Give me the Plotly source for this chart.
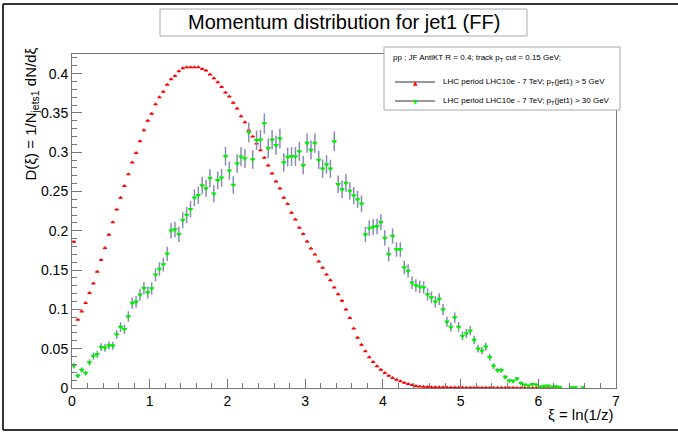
import plotly.graph_objects as go

# ---------------- data ----------------
bin_width = 0.05
n_bins = 132
xi_centers = [round(0.025 + bin_width * i, 3) for i in range(n_bins)]

red_vals = [
    0.186, 0.087, 0.0975, 0.108, 0.121, 0.133, 0.148, 0.163, 0.178, 0.195,
    0.211, 0.227, 0.242, 0.257, 0.272, 0.287, 0.299, 0.314, 0.328, 0.340,
    0.349, 0.361, 0.370, 0.377, 0.386, 0.393, 0.397, 0.403, 0.407, 0.408,
    0.408, 0.408, 0.408, 0.406, 0.404, 0.399, 0.394, 0.389, 0.383, 0.376,
    0.371, 0.363, 0.3555, 0.3457, 0.338, 0.328, 0.320, 0.311, 0.3025, 0.293,
    0.283, 0.273, 0.2627, 0.254, 0.242, 0.234, 0.223, 0.2144, 0.204, 0.196,
    0.1863, 0.1776, 0.1698, 0.161, 0.153, 0.1443, 0.137, 0.128, 0.1193, 0.111,
    0.100, 0.089, 0.0758, 0.064, 0.0549, 0.0468, 0.039, 0.033, 0.0276, 0.0233,
    0.019, 0.0157, 0.0127, 0.0106, 0.0085, 0.0067, 0.0051, 0.0038, 0.0027, 0.002,
    0.0017, 0.0013, 0.0011, 0.001, 0.0009, 0.0008, 0.0007, 0.0006, 0.0006, 0.0005,
    0.0005, 0.0004, 0.0004, 0.0004, 0.0003, 0.0003, 0.0003, 0.0003, 0.0002, 0.0002,
    0.0002, 0.0002, 0.0002, 0.0002, 0.0001, 0.0001, 0.0001, 0.0001, 0.0001, 0.0001,
    0.0001, 0.0001, 0.0001, 0.0001, 0.0001, 0.0001, None, None, None, None,
    None, None,
]

green_vals = [
    0.0284, 0.0157, 0.0229, 0.019, 0.0326, 0.0407, 0.0428, 0.052, 0.0512, 0.0542,
    0.0538, 0.068, 0.0775, 0.0746, 0.091, 0.108, 0.1097, 0.1186, 0.127, 0.1216,
    0.1267, 0.144, 0.1513, 0.157, 0.1707, 0.200, 0.2017, 0.1955, 0.2135, 0.220,
    0.2275, 0.242, 0.2453, 0.2577, 0.254, 0.267, 0.2473, 0.2644, 0.2675, 0.2948,
    0.2765, 0.2584, 0.2856, 0.2943, 0.292, 0.3252, 0.2908, 0.3152, 0.316, 0.3365,
    0.305, 0.316, 0.309, 0.3174, 0.2869, 0.294, 0.2945, 0.2945, 0.301, 0.2835,
    0.3116, 0.3028, 0.3116, 0.290, 0.279, 0.2845, 0.279, 0.3138, 0.2592, 0.2525,
    0.2608, 0.2508, 0.2448, 0.240, 0.2343, 0.1954, 0.2034, 0.2048, 0.2057, 0.211,
    0.191, 0.1702, 0.1934, 0.1763, 0.1763, 0.1534, 0.149, 0.1339, 0.1305, 0.1288,
    0.128, 0.119, 0.1153, 0.1097, 0.1131, 0.100, 0.0843, 0.0777, 0.0896, 0.0777,
    0.0663, 0.0695, 0.073, 0.061, 0.050, 0.0474, 0.0525, 0.039, 0.028, 0.0225,
    0.0225, 0.014, 0.0093, 0.0089, 0.0118, 0.0064, 0.0042, 0.003, 0.0047, 0.0042,
    0.0017, 0.0025, 0.003, 0.0017, 0.002, 0.0013, None, None, 0.0005, 0.0005,
    None, 0.0005,
]

green_errs = [
    0.0037, 0.0028, 0.0033, 0.0030, 0.0040, 0.0044, 0.0045, 0.0050, 0.0050, 0.0051,
    0.0051, 0.0057, 0.0061, 0.0060, 0.0066, 0.0072, 0.0073, 0.0076, 0.0078, 0.0077,
    0.0078, 0.0083, 0.0086, 0.0087, 0.0091, 0.0098, 0.0099, 0.0097, 0.0102, 0.0103,
    0.0105, 0.0108, 0.0109, 0.0112, 0.0111, 0.0114, 0.0109, 0.0113, 0.0114, 0.0119,
    0.0116, 0.0112, 0.0118, 0.0119, 0.0119, 0.0125, 0.0119, 0.0124, 0.0124, 0.0128,
    0.0122, 0.0124, 0.0122, 0.0124, 0.0118, 0.0119, 0.0119, 0.0119, 0.0121, 0.0117,
    0.0123, 0.0121, 0.0123, 0.0118, 0.0116, 0.0117, 0.0116, 0.0123, 0.0112, 0.0111,
    0.0112, 0.0110, 0.0109, 0.0108, 0.0106, 0.0097, 0.0099, 0.0100, 0.0100, 0.0101,
    0.0096, 0.0091, 0.0097, 0.0092, 0.0092, 0.0086, 0.0085, 0.0080, 0.0079, 0.0079,
    0.0079, 0.0076, 0.0075, 0.0073, 0.0074, 0.0070, 0.0064, 0.0061, 0.0066, 0.0061,
    0.0057, 0.0058, 0.0059, 0.0054, 0.0049, 0.0048, 0.0050, 0.0043, 0.0037, 0.0033,
    0.0033, 0.0026, 0.0021, 0.0021, 0.0024, 0.0018, 0.0014, 0.0012, 0.0015, 0.0014,
    0.0009, 0.0011, 0.0012, 0.0009, 0.0010, 0.0008, 0, 0, 0.0005, 0.0005,
    0, 0.0005,
]

x_ticks = [0, 1, 2, 3, 4, 5, 6, 7]
y_ticks = [0, 0.05, 0.1, 0.15, 0.2, 0.25, 0.3, 0.35, 0.4]
y_tick_text = ["0", "0.05", "0.1", "0.15", "0.2", "0.25", "0.3", "0.35", "0.4"]

title_text = "Momentum distribution for jet1 (FF)"
legend_header = "pp ; JF AntiKT R = 0.4; track p<sub>T</sub> cut = 0.15 GeV;"
red_label = "LHC period LHC10e - 7 TeV; p<sub>T</sub>(jet1) > 5 GeV"
green_label = "LHC period LHC10e - 7 TeV; p<sub>T</sub>(jet1) > 30 GeV"
x_title = "ξ = ln(1/z)"
y_title = "D(ξ) = 1/N<sub>jets1</sub> dN/dξ"

# ---------------- layout geometry ----------------
W, H = 678, 432
ML, MR, MT, MB = 72, 62, 54, 44
PW, PH = W - ML - MR, H - MT - MB


def px(xp):
    return (xp - ML) / PW


def py(yp):
    return (H - MB - yp) / PH


FONT = "Liberation Sans, Arial, Helvetica, sans-serif"
RED = "#ff0000"
GREEN = "#00ee00"
ERRC = "#8a8ab8"

fig = go.Figure()

fig.add_trace(go.Scatter(
    x=xi_centers, y=red_vals, mode="markers", showlegend=False,
    marker=dict(symbol="triangle-up", size=4, color=RED, line=dict(width=0)),
    error_x=dict(type="constant", value=bin_width / 2, color=RED, thickness=1, width=0),
))

fig.add_trace(go.Scatter(
    x=xi_centers, y=green_vals, mode="markers", showlegend=False,
    marker=dict(symbol="triangle-down", size=5, color=GREEN, line=dict(width=0)),
    error_x=dict(type="constant", value=bin_width / 2, color=GREEN, thickness=1, width=0),
    error_y=dict(type="data", array=green_errs, color=ERRC, thickness=1.5, width=0),
))

axis_common = dict(
    showgrid=False, zeroline=False, showline=True, linecolor="#777777", linewidth=1,
    mirror=True, ticks="inside", tickcolor="#777777",
    tickfont=dict(family=FONT, size=14, color="black"),
)

fig.update_xaxes(
    range=[0, 7], tickvals=x_ticks, ticklen=9,
    minor=dict(dtick=0.2, tick0=0, ticklen=5, ticks="inside", tickcolor="#777777"),
    **axis_common,
)
fig.update_yaxes(
    range=[0, 0.425], tickvals=y_ticks, ticktext=y_tick_text, ticklen=10,
    minor=dict(dtick=0.01, tick0=0, ticklen=5, ticks="inside", tickcolor="#777777"),
    **axis_common,
)

shapes = []
annotations = []

# canvas border (ROOT style)
for (x0, y0, x1, y1) in [(3, 4, 680, 4), (3, 4, 3, 430), (3, 430, 680, 430)]:
    shapes.append(dict(type="line", xref="paper", yref="paper",
                       x0=px(x0), y0=py(y0), x1=px(x1), y1=py(y1),
                       line=dict(color="#333333", width=2)))

# title box
shapes.append(dict(type="rect", xref="paper", yref="paper",
                   x0=px(160), x1=px(527), y0=py(9), y1=py(36),
                   line=dict(color="#aaaaaa", width=1), fillcolor="white"))
annotations.append(dict(text=title_text, xref="paper", yref="paper",
                        x=px(343.5), y=py(22.5), showarrow=False,
                        xanchor="center", yanchor="middle",
                        font=dict(family=FONT, size=20, color="black")))

# legend box
shapes.append(dict(type="rect", xref="paper", yref="paper",
                   x0=px(384), x1=px(620), y0=py(47), y1=py(110),
                   line=dict(color="#aaaaaa", width=1), fillcolor="white"))
annotations.append(dict(text=legend_header, xref="paper", yref="paper",
                        x=px(391), y=py(58), showarrow=False,
                        xanchor="left", yanchor="middle",
                        font=dict(family=FONT, size=8, color="black")))
for yrow, col, sym, lab in [(82, RED, "▲", red_label), (101, GREEN, "▼", green_label)]:
    shapes.append(dict(type="line", xref="paper", yref="paper",
                       x0=px(395), x1=px(435), y0=py(yrow), y1=py(yrow),
                       line=dict(color="#333333", width=1)))
    annotations.append(dict(text=sym, xref="paper", yref="paper",
                            x=px(415), y=py(yrow), showarrow=False,
                            xanchor="center", yanchor="middle",
                            font=dict(family="DejaVu Sans", size=6, color=col)))
    annotations.append(dict(text=lab, xref="paper", yref="paper",
                            x=px(441), y=py(yrow), showarrow=False,
                            xanchor="left", yanchor="middle",
                            font=dict(family=FONT, size=8, color="black")))

# axis titles (ROOT style: right/top aligned)
annotations.append(dict(text=x_title, xref="paper", yref="paper",
                        x=1.0, y=py(404), showarrow=False,
                        xanchor="right", yanchor="top",
                        font=dict(family=FONT, size=15, color="black")))
annotations.append(dict(text=y_title, xref="paper", yref="paper",
                        x=px(31), y=1.0 + (MT - 46) / PH, showarrow=False,
                        textangle=-90, xanchor="center", yanchor="top",
                        font=dict(family=FONT, size=15, color="black")))

fig.update_layout(
    width=W, height=H,
    margin=dict(l=ML, r=MR, t=MT, b=MB, pad=0),
    paper_bgcolor="white", plot_bgcolor="white",
    shapes=shapes, annotations=annotations,
    showlegend=False,
)

fig.write_html("out.html")
